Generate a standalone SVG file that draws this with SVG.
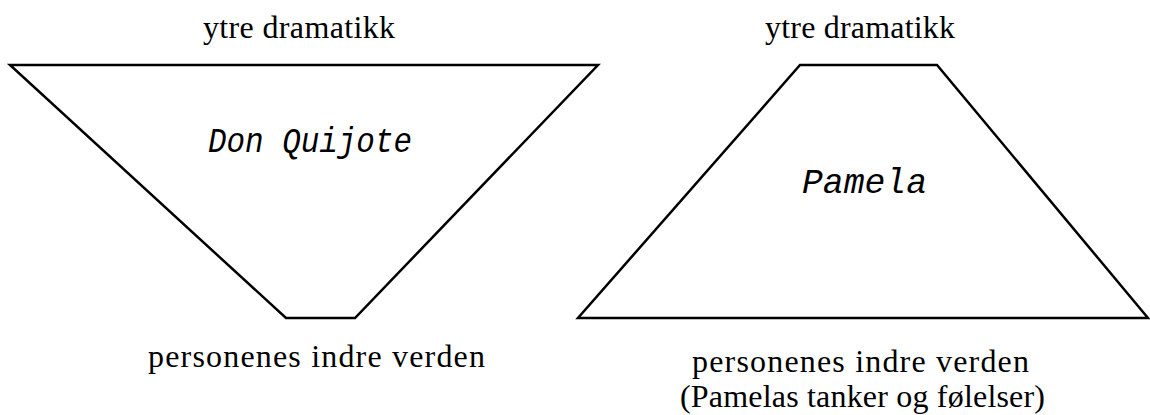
<svg xmlns="http://www.w3.org/2000/svg" width="1150" height="415" viewBox="0 0 1150 415">
<style>
.shape{fill:none;stroke:#000;stroke-width:2.5;stroke-linejoin:miter}
.lbl{font-family:"Liberation Serif","Times New Roman",serif;font-size:32px;fill:#000}
.ttl{font-family:"Liberation Mono","Courier New",monospace;font-style:italic;font-size:35px;fill:#000}
</style>
<rect width="1150" height="415" fill="#fff"/>
<g id="don-quijote">
<polygon class="shape" points="10,65 598,65 355,318 286,318"/>
<text class="lbl" x="203" y="38" textLength="192" lengthAdjust="spacing">ytre dramatikk</text>
<text class="ttl" x="208" y="152" textLength="204" lengthAdjust="spacingAndGlyphs">Don Quijote</text>
<text class="lbl" x="148" y="367" textLength="337" lengthAdjust="spacing">personenes indre verden</text>
</g>
<g id="pamela">
<polygon class="shape" points="800,65 937,65 1148,318 578,318"/>
<text class="lbl" x="765" y="38" textLength="190" lengthAdjust="spacing">ytre dramatikk</text>
<text class="ttl" x="802" y="193" textLength="125" lengthAdjust="spacingAndGlyphs">Pamela</text>
<text class="lbl" x="692" y="372" textLength="337" lengthAdjust="spacing">personenes indre verden</text>
<text class="lbl" x="680" y="407" textLength="365" lengthAdjust="spacing">(Pamelas tanker og følelser)</text>
</g>
<g id="connectors"/>
</svg>
